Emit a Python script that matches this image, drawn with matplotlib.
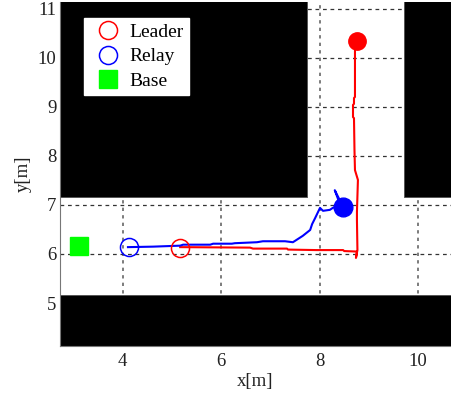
import matplotlib
matplotlib.use("Agg")
import matplotlib.pyplot as plt
from matplotlib.patches import Rectangle

leader_x = [5.17,6.59,6.65,7.34,7.36,7.93,8.48,8.50,8.76,8.74,8.77,8.76,8.76,8.78,8.72,8.71,8.70,8.68,8.68,8.70,8.70,8.72,8.72]
leader_y = [6.14,6.13,6.11,6.11,6.09,6.08,6.08,6.06,6.05,5.92,6.08,6.69,6.86,7.51,7.71,8.12,8.77,8.79,9.04,9.06,9.18,9.20,10.36]
relay_x = [4.11,4.62,5.17,5.23,5.78,5.84,6.22,6.28,6.73,6.85,7.30,7.46,7.66,7.81,7.85,7.91,8.01,8.07,8.21,8.27,8.42,8.31,8.36,8.48]
relay_y = [6.14,6.15,6.17,6.19,6.19,6.21,6.21,6.22,6.24,6.26,6.26,6.24,6.37,6.49,6.61,6.73,6.94,6.88,6.90,6.94,7.00,7.30,7.20,6.96]
leader_start = (5.17, 6.13)
leader_end = (8.76, 10.35)
relay_start = (4.13, 6.14)
relay_end = (8.48, 6.96)
base = (3.12, 6.16)
obstacles = [(2.73, 7.16, 5.01, 4.0), (9.72, 7.16, 1.0, 4.0), (2.73, 4.1, 8.0, 1.064)]
xticks = [4, 6, 8, 10]
yticks = [5, 6, 7, 8, 9, 10, 11]

plt.rcParams['font.family'] = ['Liberation Serif', 'DejaVu Serif']
W, H = 451, 400
fig = plt.figure(figsize=(W/100, H/100), dpi=100)
ax = fig.add_axes([60/W, (H-346)/H, (W-60)/W, 344/H])
ax.set_xlim(2.73, 4+(451-122.5)/49.25)
ax.set_ylim(6-92/49.06, 6+252/49.06)

ax.set_axisbelow(True)
ax.xaxis.grid(True, color='#666666', lw=1.2, ls=(0, (2, 2.5)))
ax.yaxis.grid(True, color='#333333', lw=0.9, ls=(0, (3, 3)))
for x0, y0, w, h in obstacles:
    ax.add_patch(Rectangle((x0, y0), w, h, fc='black', ec='#555555', lw=0.7, zorder=1.5))

ax.plot(leader_x, leader_y, color='#ff0000', lw=1.5, zorder=3)
ax.plot(relay_x, relay_y, color='#0000ff', lw=1.5, zorder=3)
ms = 13
h1, = ax.plot(*leader_start, 'o', mfc='none', mec='#ff0000', mew=1.1, ms=ms, zorder=4, label='Leader')
h2, = ax.plot(*relay_start, 'o', mfc='none', mec='#0000ff', mew=1.1, ms=ms, zorder=4, label='Relay')
h3, = ax.plot(*base, 's', mfc='#00ff00', mec='#00ff00', ms=13.5, zorder=4, label='Base', ls='none')
ax.plot(*leader_end, 'o', color='#ff0000', ms=12.5, zorder=4)
ax.plot(*relay_end, 'o', color='#0000ff', ms=13.5, zorder=4)

ax.set_xticks(xticks)
ax.set_yticks(yticks)
ax.tick_params(length=0, labelsize=13.5, colors='#222222')
ax.tick_params(axis='y', pad=2.5)
ax.tick_params(axis='x', pad=5)
for s in ['top', 'right']:
    ax.spines[s].set_visible(False)
for s in ['left', 'bottom']:
    ax.spines[s].set_color('#777777')
    ax.spines[s].set_zorder(5)
ax.set_xlabel('x[m]', fontsize=13.5, color='#222222', labelpad=2.5)
ax.set_ylabel('y[m]', fontsize=13.5, color='#222222', labelpad=4)

leg = ax.legend(handles=[h1, h2, h3], loc='upper left',
                bbox_to_anchor=(84/W, 1-18/H), bbox_transform=fig.transFigure,
                fontsize=14, frameon=True, fancybox=False, framealpha=1,
                facecolor='white', edgecolor='white', borderaxespad=0,
                labelspacing=0.36, handletextpad=0.1, borderpad=0.27, handlelength=1.95)
leg.set_zorder(6)
fig.savefig('out.png', dpi=100)
